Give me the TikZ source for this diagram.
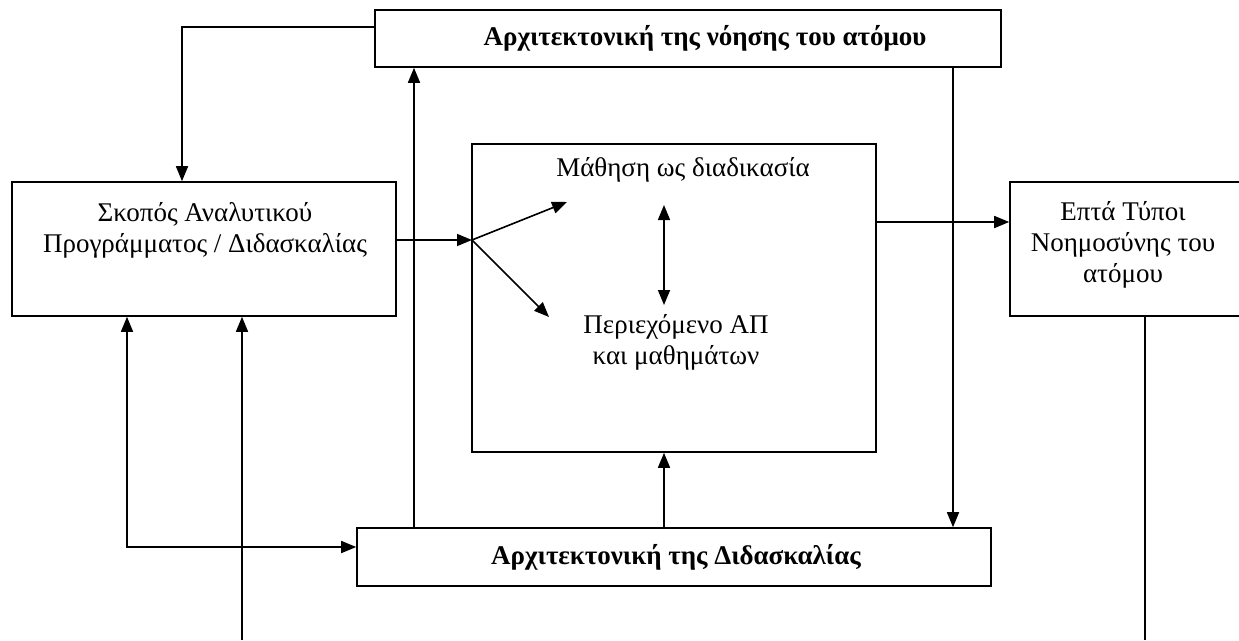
\documentclass[tikz,border=0pt]{standalone}
\usepackage{fontspec}
\setmainfont{Liberation Serif}
\usetikzlibrary{arrows.meta}
\begin{document}
\begin{tikzpicture}[x=1pt,y=-1pt,
  box/.style={draw,line width=1.6pt,inner sep=0pt},
  txt/.style={font=\fontsize{27}{31}\selectfont,align=center,inner sep=0pt},
  btxt/.style={font=\fontsize{27}{31}\selectfont\bfseries,align=center,inner sep=0pt},
  conn/.style={line width=1.6pt,-{Triangle[length=15pt,width=12pt]}},
  dconn/.style={line width=1.6pt,{Triangle[length=15pt,width=12pt]}-{Triangle[length=15pt,width=12pt]}},
  plain/.style={line width=1.6pt}]
\useasboundingbox (0,0) rectangle (1239,640);
% boxes
\node[box,minimum width=626pt,minimum height=57pt] (top) at (688,38.5) {};
\node[btxt] (toptxt) at (705,38) {Αρχιτεκτονική της νόησης του ατόμου};
\node[box,minimum width=384pt,minimum height=134pt] (skopos) at (204,249) {};
\node[txt] (skopostxt) at (205,230) {Σκοπός Αναλυτικού\\Προγράμματος / Διδασκαλίας};
\node[box,minimum width=404pt,minimum height=308pt] (mid) at (674,298) {};
\node[txt] (mathisi) at (683,170) {Μάθηση ως διαδικασία};
\node[txt] (periex) at (676,342) {Περιεχόμενο ΑΠ\\και μαθημάτων};
\node[box,minimum width=240pt,minimum height=134pt] (epta) at (1130,249) {};
\node[txt] (eptatxt) at (1123,245) {Επτά Τύποι\\Νοημοσύνης του\\ατόμου};
\node[box,minimum width=634pt,minimum height=58pt] (didask) at (674,557) {};
\node[btxt] (didasktxt) at (676,557) {Αρχιτεκτονική της Διδασκαλίας};
% coordinates
\coordinate (hub) at (472,240);
\coordinate (mathA) at (567,202);
\coordinate (perA) at (549,317);
\coordinate (dblT) at (664,205);
\coordinate (dblB) at (664,305);
\coordinate (botEpta) at (1145,640);
\coordinate (botS) at (242,640);
\coordinate (cornerL) at (127,547);
% connectors
\draw[conn] (top.west |- 0,27) -| (skopos.north -| 182,0);
\draw[conn] (didask.north -| 414,0) -- (top.south -| 414,0);
\draw[conn] (top.south -| 953,0) -- (didask.north -| 953,0);
\draw[conn] (skopos.east |- hub) -- (hub);
\draw[conn] (hub) -- (mathA);
\draw[conn] (hub) -- (perA);
\draw[dconn] (dblT) -- (dblB);
\draw[conn] (mid.east |- 0,222) -- (epta.west |- 0,222);
\draw[plain] (epta.south -| botEpta) -- (botEpta);
\draw[conn] (didask.north -| 664,0) -- (mid.south -| 664,0);
\draw[dconn] (skopos.south -| cornerL) -- (cornerL) -- (didask.west |- cornerL);
\draw[conn] (botS) -- (skopos.south -| botS);
\end{tikzpicture}
\end{document}
